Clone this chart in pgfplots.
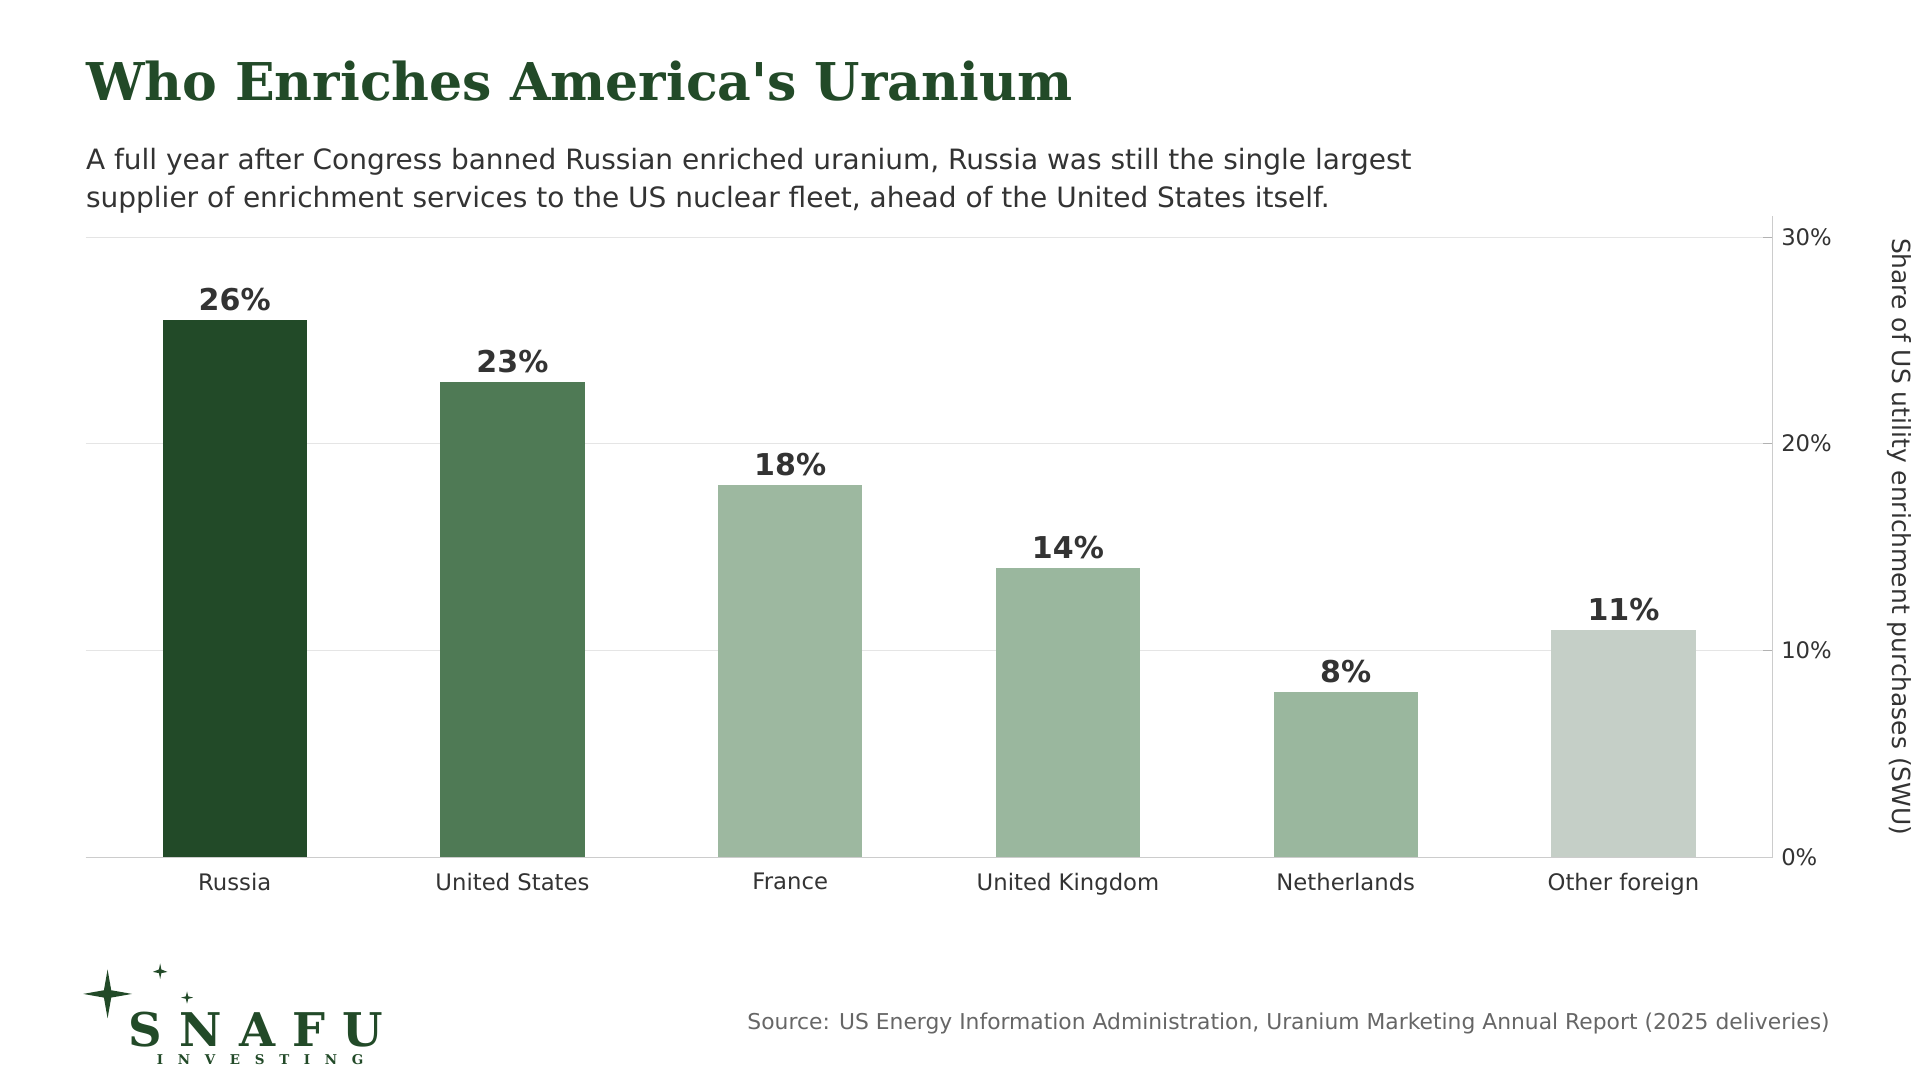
\documentclass[border=0pt]{standalone}
\usepackage{fontspec}
\setmainfont{DejaVu Sans}
\newfontfamily\serifb{DejaVu Serif}
\usepackage{pgfplots}
\pgfplotsset{compat=1.18}
\definecolor{dg}{HTML}{224A28}
\definecolor{mg}{HTML}{4F7A55}
\definecolor{lg}{HTML}{9DB8A0}
\definecolor{lg2}{HTML}{9AB79E}
\definecolor{og}{HTML}{C5CFC7}
\definecolor{tx}{HTML}{333333}
\begin{document}
\begin{tikzpicture}[x=0.5pt,y=-0.5pt]
\path (0,0) rectangle (1568,880);
\node[anchor=base west,text=dg,font=\serifb\bfseries\fontsize{21.3}{26}\selectfont,inner sep=0] at (70,82) {Who Enriches America's Uranium};
\node[anchor=north west,text=tx,font=\fontsize{11.45}{15.5}\selectfont,align=left,inner sep=0] at (70,121) {A full year after Congress banned Russian enriched uranium, Russia was still the single largest\\supplier of enrichment services to the US nuclear fleet, ahead of the United States itself.};
\begin{axis}[at={(35pt,-350.5pt)},anchor=south west,scale only axis,width=690pt,height=262pt,
 xmin=-0.537,xmax=5.537,ymin=0,ymax=31,
 axis y line*=right, axis x line*=bottom, axis line style={gray!40},
 ytick={0,10,20,30}, yticklabel={\pgfmathprintnumber{\tick}\%},
 xtick={0,...,5}, xticklabels={Russia,United States,France,United Kingdom,Netherlands,Other foreign},
 tick style={gray!60}, major tick length=4pt, xtick style={draw=none},
 ymajorgrids, grid style={gray!20},
 ticklabel style={font=\fontsize{9.3}{11}\selectfont,text=tx},
 xticklabel style={yshift=1pt},
 /pgf/number format/assume math mode=true,
 ylabel={Share of US utility enrichment purchases (SWU)},
 ylabel style={font=\fontsize{10.2}{12}\selectfont,text=tx,rotate=180,yshift=16pt},
 ybar, bar width=59pt, bar shift=0pt,
 nodes near coords={\pgfmathprintnumber{\pgfplotspointmeta}\%},
 nodes near coords style={font=\bfseries\fontsize{12.3}{14}\selectfont,text=tx},
 every axis plot/.append style={draw=none}]
\addplot[fill=dg] coordinates {(0,26)};
\addplot[fill=mg] coordinates {(1,23)};
\addplot[fill=lg] coordinates {(2,18)};
\addplot[fill=lg2] coordinates {(3,14)};
\addplot[fill=lg2] coordinates {(4,8)};
\addplot[fill=og] coordinates {(5,11)};
\end{axis}
\node[anchor=base east,text=black!60,font=\fontsize{8.93}{10}\selectfont,inner sep=0] at (1497,842) {Source: US Energy Information Administration, Uranium Marketing Annual Report (2025 deliveries)};
\fill[dg] (88,793) -- (91,810) -- (108,813) -- (91,816) -- (88,833) -- (85,816) -- (68,813) -- (85,810) -- cycle;
\fill[dg] (131,788) -- (132,793) -- (137,795) -- (132,796) -- (131,801) -- (130,796) -- (125,795) -- (130,793) -- cycle;
\fill[dg] (153,811) -- (154,815) -- (158,816) -- (154,817) -- (153,821) -- (152,817) -- (148,816) -- (152,815) -- cycle;
\node[anchor=base west,text=dg,font=\serifb\bfseries\fontsize{19}{20}\selectfont,inner sep=0] at (105,856) {S\hspace{7pt}N\hspace{7pt}A\hspace{7pt}F\hspace{7pt}U};
\node[anchor=base west,text=dg,font=\serifb\bfseries\fontsize{5.5}{6}\selectfont,inner sep=0] at (128,871) {I\hspace{6pt}N\hspace{6pt}V\hspace{6pt}E\hspace{6pt}S\hspace{6pt}T\hspace{6pt}I\hspace{6pt}N\hspace{6pt}G};
\end{tikzpicture}
\end{document}
